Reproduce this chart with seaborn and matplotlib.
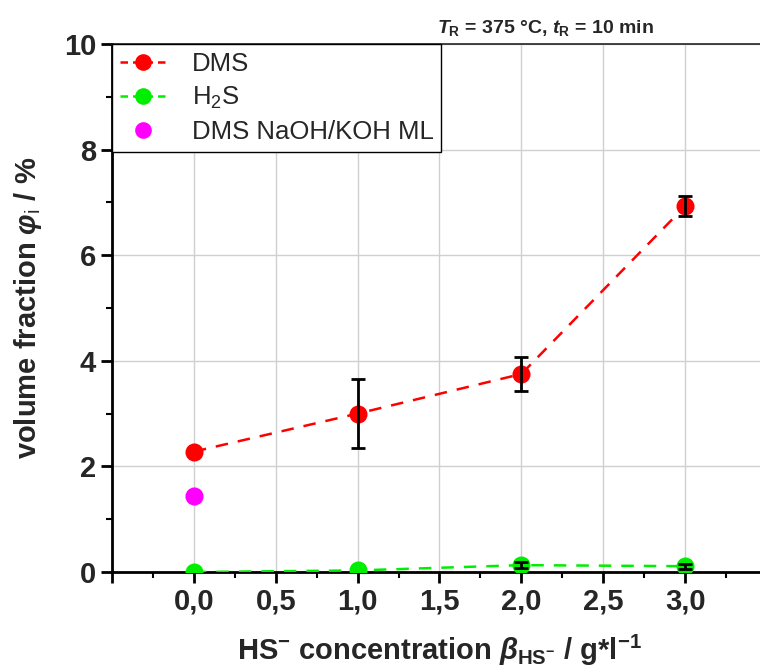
import matplotlib
matplotlib.use("Agg")
import matplotlib.pyplot as plt
import seaborn as sns
import pandas as pd
import numpy as np
from matplotlib.ticker import MultipleLocator, FuncFormatter
from matplotlib.lines import Line2D

sns.set_style("white")
plt.rcParams['font.family'] = ['Liberation Sans', 'DejaVu Sans']
plt.rcParams['mathtext.fontset'] = 'custom'
plt.rcParams['mathtext.rm'] = 'Liberation Sans'
plt.rcParams['mathtext.it'] = 'Liberation Sans:italic:bold'
plt.rcParams['mathtext.bf'] = 'Liberation Sans:bold'

x_conc = [0.0, 1.0, 2.0, 3.0]
dms = [2.28, 3.0, 3.75, 6.93]
dms_err = [0.0, 0.65, 0.32, 0.19]
h2s = [0.0, 0.03, 0.13, 0.11]
h2s_err = [0.0, 0.0, 0.05, 0.05]
ml_x = [0.0]
ml_y = [1.43]

df = pd.DataFrame({"x": x_conc * 2,
                   "y": dms + h2s,
                   "series": ["DMS"] * 4 + ["H$_2$S"] * 4})

fig = plt.figure(figsize=(7.6, 6.71), dpi=100)
ax = fig.add_axes([112/760, 1-572/671, (767-112)/760, (572-44)/671])

ax.grid(True, color="#d0d0d0", linewidth=1.0)
ax.set_axisbelow(True)

sns.lineplot(data=df, x="x", y="y", hue="series",
             palette={"DMS": "#ff0000", "H$_2$S": "#00ee00"},
             marker="o", markersize=13, markeredgewidth=0,
             linestyle=(0, (5, 4)), linewidth=1.8, ax=ax, legend=False, zorder=3)

def draw_err(xs, ys, es):
    sel = [(x, y, e) for x, y, e in zip(xs, ys, es) if e > 0]
    if sel:
        xx, yy, ee = zip(*sel)
        ax.errorbar(xx, yy, yerr=ee, fmt="none", ecolor="black",
                    elinewidth=2, capsize=5, capthick=2, zorder=4)

draw_err(x_conc, dms, dms_err)
draw_err(x_conc, h2s, h2s_err)
sns.scatterplot(x=ml_x, y=ml_y, color="#ff00ff", s=170, linewidth=0, ax=ax, zorder=3)

ax.set_xlim(-0.5, 3.5)
ax.set_ylim(0, 10)
ax.xaxis.set_major_locator(MultipleLocator(0.5))
ax.xaxis.set_minor_locator(MultipleLocator(0.25))
ax.yaxis.set_major_locator(MultipleLocator(2))
ax.yaxis.set_minor_locator(MultipleLocator(1))
ax.xaxis.set_major_formatter(FuncFormatter(
    lambda v, p: "" if (v < -0.01 or v > 3.01) else f"{v:.1f}".replace(".", ",")))
ax.yaxis.set_major_formatter(FuncFormatter(lambda v, p: f"{v:.0f}"))
ax.tick_params(axis="both", which="major", length=8, width=2, labelsize=21, direction="out",
               bottom=True, left=True, color="black")
ax.tick_params(axis="both", which="minor", length=4, width=1.5, direction="out",
               bottom=True, left=True, color="black")
for lab in ax.get_xticklabels() + ax.get_yticklabels():
    lab.set_fontweight("bold")

for s in ["left", "bottom"]:
    ax.spines[s].set_linewidth(2)
    ax.spines[s].set_color("black")
ax.spines["top"].set_linewidth(1.2)
ax.spines["top"].set_color("#222222")
ax.spines["right"].set_linewidth(1.2)

ax.set_xlabel(r"HS$^{\mathbf{-}}$ concentration $\mathit{\beta}_{\mathbf{HS}^{\mathbf{-}}}$ / g*l$^{\mathbf{-1}}$",
              fontsize=21, fontweight="bold", labelpad=12)
ax.set_ylabel(r"volume fraction $\mathit{\varphi}_{\mathrm{i}}$ / %", fontsize=21, fontweight="bold", labelpad=14)

fig.text(545/760, 1-28/671, r"$\mathit{T}_{\mathbf{R}}$ = 375 °C, $\mathit{t}_{\mathbf{R}}$ = 10 min",
         ha="center", va="center", fontsize=14, fontweight="bold")

handles = [
    Line2D([], [], color="#ff0000", marker="o", markersize=12, markeredgewidth=0, linestyle=(0, (3, 2)), linewidth=1.8),
    Line2D([], [], color="#00ee00", marker="o", markersize=12, markeredgewidth=0, linestyle=(0, (3, 2)), linewidth=1.8),
    Line2D([], [], color="#ff00ff", marker="o", markersize=12, markeredgewidth=0, linestyle="none"),
]
leg = ax.legend(handles, ["DMS", "H$_2$S", "DMS NaOH/KOH ML"], loc="upper left",
                bbox_to_anchor=(0, 1), borderaxespad=0, frameon=True, fancybox=False,
                edgecolor="black", framealpha=1, handlelength=1.8,
                handletextpad=1.0, labelspacing=0.35, borderpad=0.3,
                prop={"family": ["Liberation Sans", "DejaVu Sans"], "size": 18.5})
leg.get_frame().set_linewidth(1.0)

fig.savefig("out.png", dpi=100)
